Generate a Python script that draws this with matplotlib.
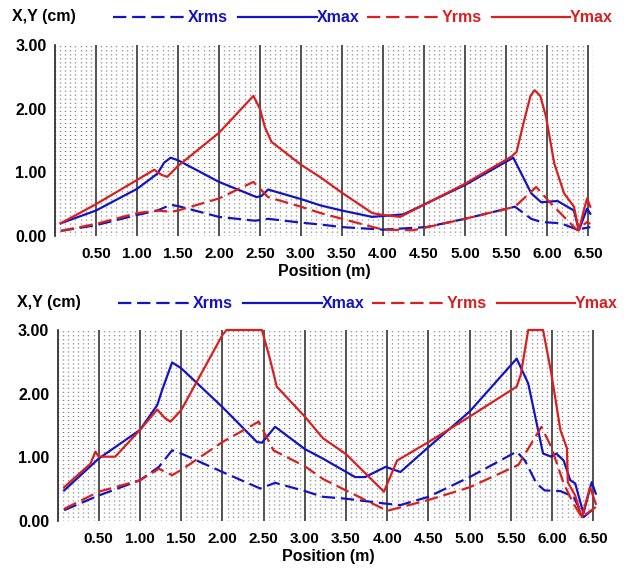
import matplotlib
matplotlib.use('Agg')
import matplotlib.pyplot as plt
from matplotlib.lines import Line2D
import numpy as np

plt.rcParams['font.family'] = ['Liberation Sans', 'DejaVu Sans']

# ---------------- data ----------------
x_ticks = [0.5, 1.0, 1.5, 2.0, 2.5, 3.0, 3.5, 4.0, 4.5, 5.0, 5.5, 6.0, 6.5]
y_ticks = [0.0, 1.0, 2.0, 3.0]
series_names = ["Xrms", "Xmax", "Yrms", "Ymax"]

# top panel
top_xrms_x = [0.07, 0.5, 1.0, 1.25, 1.41, 1.5, 2.0, 2.44, 2.6, 3.0, 3.24, 3.5, 4.0, 4.53, 5.0, 5.61, 5.81, 5.93, 6.17, 6.37, 6.53]
top_xrms_y = [0.08, 0.17, 0.33, 0.40, 0.49, 0.47, 0.30, 0.24, 0.27, 0.21, 0.18, 0.14, 0.10, 0.14, 0.27, 0.46, 0.27, 0.22, 0.20, 0.10, 0.14]

top_xmax_x = [0.07, 0.5, 1.0, 1.25, 1.33, 1.41, 1.5, 2.0, 2.46, 2.52, 2.60, 3.0, 3.24, 3.5, 3.87, 4.25, 5.0, 5.59, 5.70, 5.81, 5.93, 6.13, 6.33, 6.39, 6.49, 6.53]
top_xmax_y = [0.20, 0.40, 0.74, 0.98, 1.15, 1.23, 1.19, 0.85, 0.61, 0.63, 0.73, 0.58, 0.48, 0.40, 0.30, 0.34, 0.80, 1.23, 0.95, 0.67, 0.53, 0.55, 0.40, 0.09, 0.43, 0.35]

top_yrms_x = [0.07, 0.5, 1.0, 1.25, 1.41, 1.5, 2.0, 2.42, 2.6, 3.0, 3.24, 3.5, 4.0, 4.37, 5.0, 5.61, 5.87, 6.05, 6.21, 6.37, 6.49, 6.53]
top_yrms_y = [0.08, 0.19, 0.36, 0.40, 0.38, 0.40, 0.59, 0.85, 0.61, 0.46, 0.36, 0.27, 0.10, 0.09, 0.27, 0.46, 0.77, 0.51, 0.30, 0.09, 0.22, 0.19]

top_ymax_x = [0.07, 0.5, 1.0, 1.21, 1.30, 1.37, 1.5, 2.0, 2.42, 2.50, 2.56, 2.64, 3.0, 3.24, 3.5, 3.87, 4.0, 4.21, 4.5, 5.0, 5.57, 5.63, 5.72, 5.80, 5.85, 5.92, 5.99, 6.09, 6.21, 6.33, 6.39, 6.45, 6.49, 6.53]
top_ymax_y = [0.20, 0.50, 0.88, 1.04, 0.96, 0.93, 1.10, 1.62, 2.20, 2.00, 1.71, 1.48, 1.12, 0.92, 0.68, 0.36, 0.33, 0.30, 0.49, 0.82, 1.25, 1.32, 1.80, 2.20, 2.29, 2.20, 1.87, 1.14, 0.67, 0.46, 0.09, 0.40, 0.59, 0.46]

# bottom panel
bot_xrms_x = [0.08, 0.5, 1.0, 1.23, 1.39, 1.5, 2.0, 2.46, 2.64, 3.0, 3.22, 3.5, 4.0, 4.16, 4.5, 5.0, 5.57, 5.67, 5.81, 5.91, 6.10, 6.26, 6.38, 6.53]
bot_xrms_y = [0.17, 0.40, 0.64, 0.85, 1.11, 1.06, 0.77, 0.51, 0.60, 0.47, 0.38, 0.35, 0.27, 0.25, 0.38, 0.69, 1.09, 0.95, 0.59, 0.48, 0.47, 0.38, 0.06, 0.22]

bot_xmax_x = [0.08, 0.5, 1.0, 1.21, 1.27, 1.39, 1.5, 2.0, 2.42, 2.48, 2.64, 3.0, 3.22, 3.61, 3.73, 3.98, 4.16, 4.5, 5.0, 5.57, 5.71, 5.89, 5.99, 6.05, 6.14, 6.22, 6.28, 6.38, 6.48, 6.53]
bot_xmax_y = [0.48, 0.98, 1.43, 1.82, 2.06, 2.49, 2.40, 1.79, 1.24, 1.23, 1.48, 1.13, 0.98, 0.69, 0.69, 0.85, 0.77, 1.16, 1.72, 2.55, 2.16, 1.06, 1.01, 1.06, 0.95, 0.64, 0.59, 0.12, 0.61, 0.43]

bot_yrms_x = [0.08, 0.5, 1.0, 1.23, 1.39, 1.5, 2.0, 2.44, 2.62, 3.0, 3.22, 3.5, 4.0, 4.5, 5.0, 5.59, 5.87, 5.99, 6.14, 6.26, 6.36, 6.53]
bot_yrms_y = [0.19, 0.46, 0.64, 0.82, 0.72, 0.80, 1.24, 1.56, 1.11, 0.86, 0.66, 0.48, 0.16, 0.33, 0.53, 0.88, 1.48, 1.16, 0.59, 0.27, 0.06, 0.22]

bot_ymax_x = [0.08, 0.40, 0.46, 0.50, 0.70, 1.0, 1.21, 1.30, 1.37, 1.5, 2.0, 2.05, 2.48, 2.58, 2.66, 3.0, 3.22, 3.5, 3.96, 4.12, 4.5, 5.0, 5.57, 5.62, 5.71, 5.89, 5.99, 6.10, 6.18, 6.19, 6.28, 6.36, 6.46, 6.53]
bot_ymax_y = [0.53, 0.90, 1.09, 1.01, 1.01, 1.43, 1.75, 1.62, 1.56, 1.74, 2.92, 3.00, 3.00, 2.53, 2.11, 1.64, 1.30, 1.05, 0.46, 0.95, 1.24, 1.64, 2.11, 2.30, 3.00, 3.00, 2.32, 1.43, 1.14, 0.61, 0.40, 0.06, 0.53, 0.27]

# ---------------- style ----------------
W, H = 626, 571
BLUE = '#1414c4'
RED = '#d82020'
DASH = (0, (6, 2.6))
styles = {
    "Xrms": dict(color=BLUE, linestyle=DASH),
    "Xmax": dict(color=BLUE, linestyle='-'),
    "Yrms": dict(color=RED, linestyle=DASH),
    "Ymax": dict(color=RED, linestyle='-'),
}
LW = 1.6

fig = plt.figure(figsize=(W / 100, H / 100), dpi=100)


def fx(px):
    return px / W


def fy(py):
    return 1 - py / H


def legend_row(y, dx):
    fig.text(fx(12 + dx), fy(y), "X,Y (cm)", fontsize=11.5, fontweight='bold',
             va='center', ha='left', color='black')
    items = [("Xrms", 113, 188), ("Xmax", 238, 317), ("Yrms", 367, 442), ("Ymax", 492, 570)]
    for name, x0, x1 in items:
        st = styles[name]
        fig.add_artist(Line2D([fx(x0 + dx), fx(x1 + dx)], [fy(y), fy(y)],
                              transform=fig.transFigure, lw=LW,
                              color=st['color'], linestyle=st['linestyle']))
        fig.text(fx(x1 + dx), fy(y), name, fontsize=11.5, fontweight='bold',
                 va='center', ha='left', color=st['color'])


def panel(left, right, top, bottom, xlim, data):
    ax = fig.add_axes([fx(left), fy(bottom), (right - left) / W, (bottom - top) / H])
    ax.set_xlim(*xlim)
    ax.set_ylim(0, 3)
    ax.set_xticks(x_ticks)
    ax.set_xticklabels([f"{v:.2f}" for v in x_ticks], fontsize=11, fontweight='bold')
    ax.set_yticks(y_ticks)
    ax.set_yticklabels([f"{v:.2f}" for v in y_ticks], fontsize=11.5, fontweight='bold')
    ax.set_xticks(np.arange(0, 6.6, 0.0625), minor=True)
    ax.tick_params(which='both', length=0)
    ax.tick_params(axis='x', pad=8)
    ax.tick_params(axis='y', pad=6)
    ax.grid(which='minor', axis='x', color='#4a4a4a', lw=1.0, linestyle=(0, (0.55, 2.35)))
    ax.grid(which='major', axis='x', color='#222222', lw=1.1)
    for s in ['top', 'right', 'bottom']:
        ax.spines[s].set_visible(False)
    ax.spines['left'].set_color('#222222')
    ax.spines['left'].set_linewidth(1.2)
    ax.set_xlabel("Position (m)", fontsize=11.5, fontweight='bold', labelpad=2)
    for name in series_names:
        xs, ys = data[name]
        ax.plot(xs, ys, lw=LW, clip_on=False, solid_joinstyle='round', **styles[name])
    return ax


panel(55, 593, 45, 236, (0.07, 6.53),
      {"Xrms": (top_xrms_x, top_xrms_y), "Xmax": (top_xmax_x, top_xmax_y),
       "Yrms": (top_yrms_x, top_yrms_y), "Ymax": (top_ymax_x, top_ymax_y)})
panel(57.5, 598.5, 330, 521, (0.08, 6.53),
      {"Xrms": (bot_xrms_x, bot_xrms_y), "Xmax": (bot_xmax_x, bot_xmax_y),
       "Yrms": (bot_yrms_x, bot_yrms_y), "Ymax": (bot_ymax_x, bot_ymax_y)})

legend_row(17, 0)
legend_row(303, 5)

fig.savefig("out.png", dpi=100, facecolor='white')
